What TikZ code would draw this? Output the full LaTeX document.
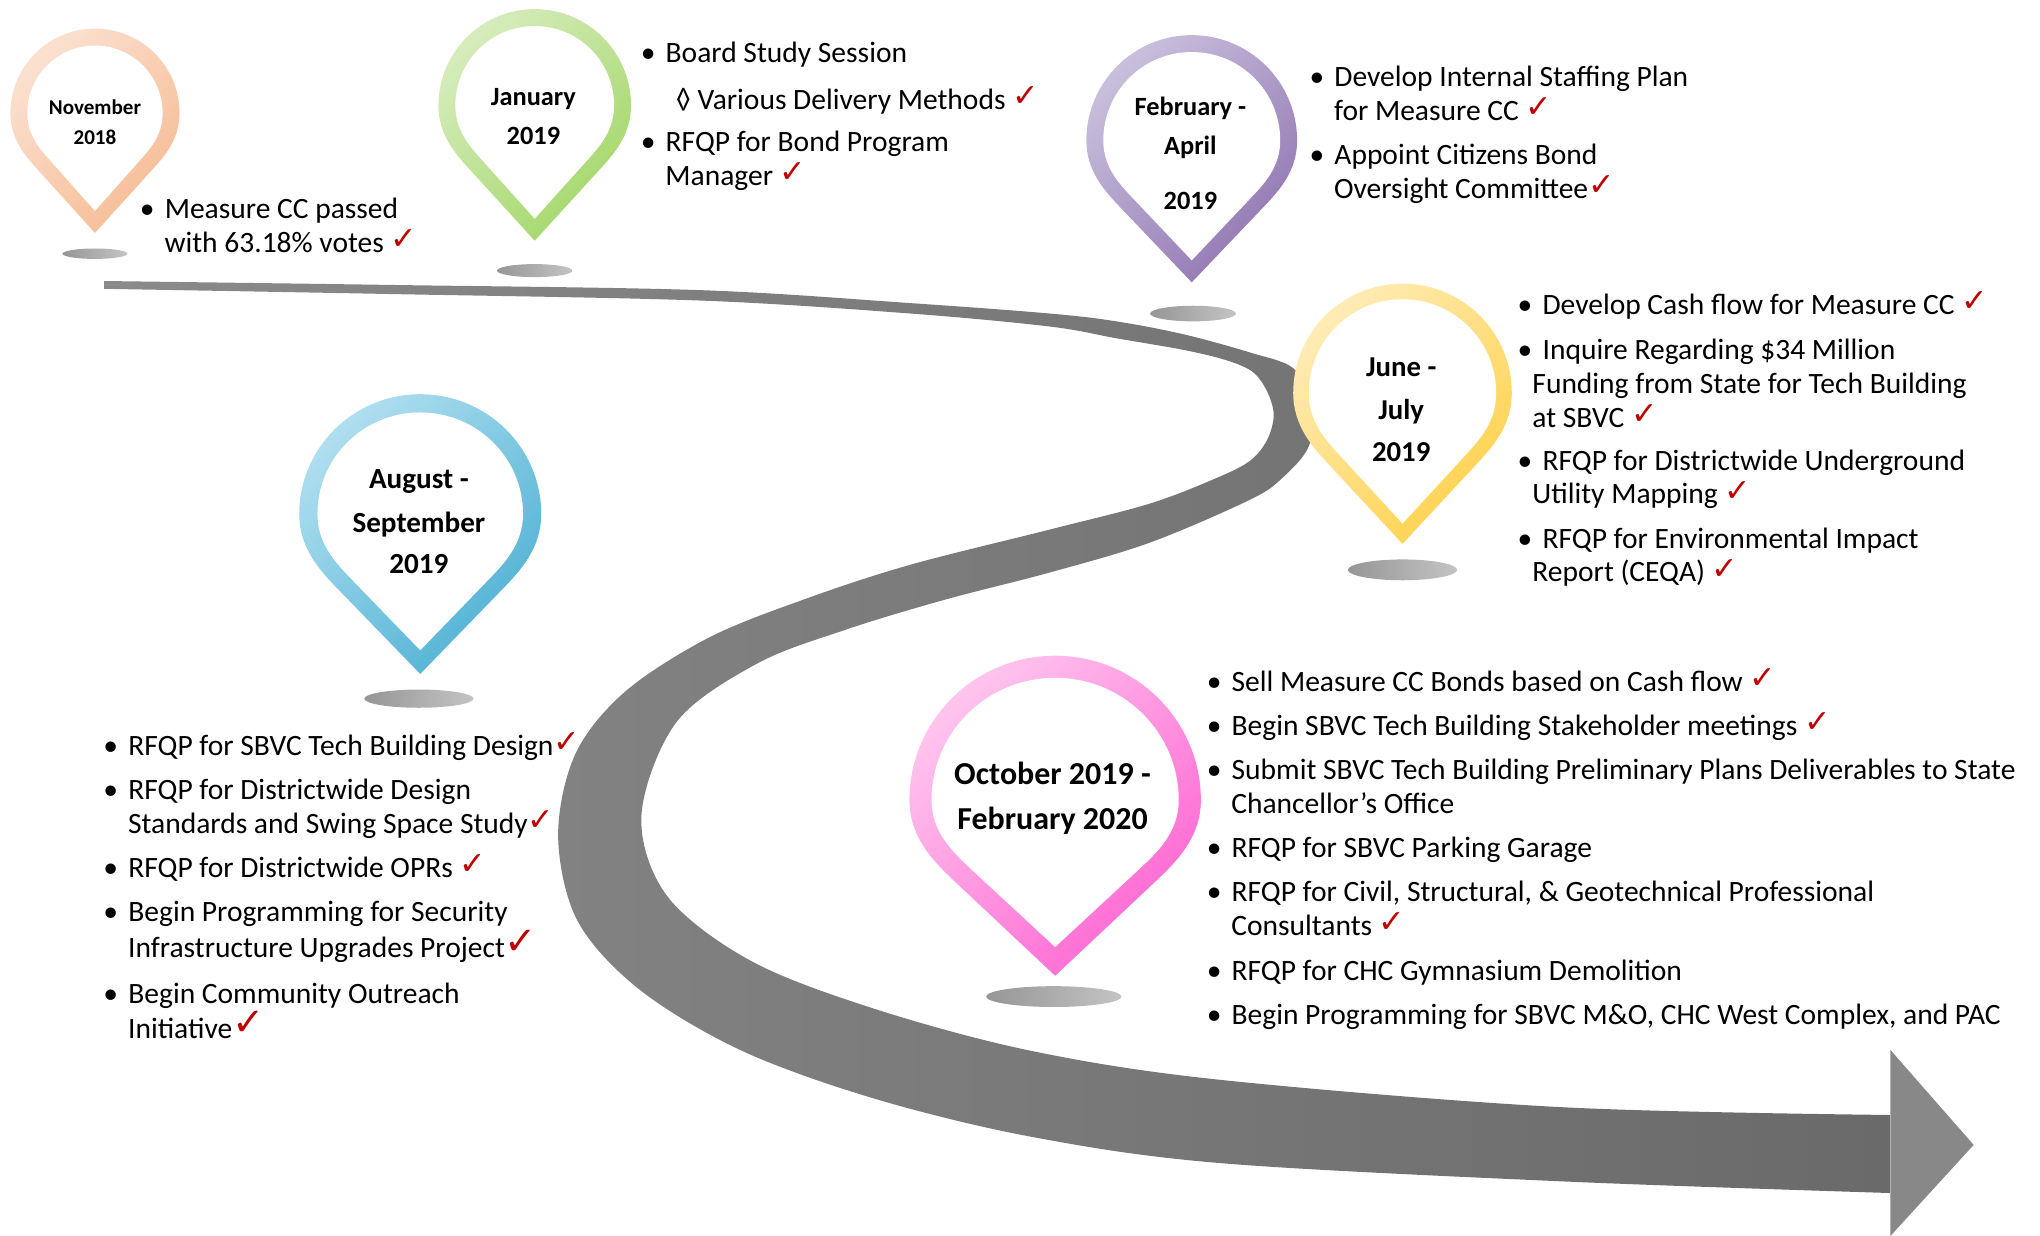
\documentclass[tikz,border=0pt]{standalone}
\usepackage{fontspec}
\setmainfont{Carlito}
\newfontfamily\tickfont{DejaVu Sans}
\definecolor{tickred}{HTML}{C00000}
\definecolor{shadowdark}{HTML}{969696}
\definecolor{shadowlight}{HTML}{C4C4C4}
\definecolor{roadleft}{HTML}{8A8A8A}
\definecolor{roadmid}{HTML}{858585}
\definecolor{roadright}{HTML}{6A6A6A}
\definecolor{headgray}{HTML}{888888}
\definecolor{novlight}{HTML}{FBE0D0}
\definecolor{novdark}{HTML}{F6BC94}
\definecolor{janlight}{HTML}{D6ECBC}
\definecolor{jandark}{HTML}{A3D769}
\definecolor{feblight}{HTML}{C9BEDC}
\definecolor{febdark}{HTML}{9177B2}
\definecolor{junlight}{HTML}{FFEBB4}
\definecolor{jundark}{HTML}{FFD24C}
\definecolor{auglight}{HTML}{AEDEEF}
\definecolor{augdark}{HTML}{4FB1D4}
\definecolor{octlight}{HTML}{FFC4EE}
\definecolor{octdark}{HTML}{FF66D2}
\newcommand{\ok}{{\tickfont\fontsize{9}{9}\selectfont\color{tickred}\smash{\raisebox{0.8pt}{✓}}}}
\newcommand{\okb}{{\tickfont\fontsize{11}{11}\selectfont\color{tickred}\smash{\raisebox{0.8pt}{✓}}}}
\newcommand{\bul}{•\hspace{2.9pt}}
\newcommand{\inda}{\hspace{7pt}}
\newcommand{\indb}{\hspace{4.2pt}}
% teardrop outline: centre x, centre y, half width, height above centre, tip below centre
\newcommand{\teardrop}[5]{
  ({#1},{#2+(#5)}) -- ({#1+0.68*(#3)},{#2+0.47*(#5)})
  .. controls ({#1+0.82*(#3)},{#2+0.36*(#5)}) and ({#1+(#3)},{#2+0.22*(#5)}) .. ({#1+(#3)},#2)
  .. controls ({#1+(#3)},{#2-0.5523*(#4)}) and ({#1+0.5523*(#3)},{#2-(#4)}) .. (#1,{#2-(#4)})
  .. controls ({#1-0.5523*(#3)},{#2-(#4)}) and ({#1-(#3)},{#2-0.5523*(#4)}) .. ({#1-(#3)},#2)
  .. controls ({#1-(#3)},{#2+0.22*(#5)}) and ({#1-0.82*(#3)},{#2+0.36*(#5)}) .. ({#1-0.68*(#3)},{#2+0.47*(#5)})
  -- cycle}
% pin: x, y, half width, above, below, ring, light colour, dark colour
\newcommand{\pin}[8]{
  \shade[top color=#7,bottom color=#8,shading angle=45] \teardrop{#1}{#2}{#3}{#4}{#5};
  \fill[white] \teardrop{#1}{#2}{#3-#6}{#4-#6}{#5-1.3*#6};
}
\tikzset{
  datelbl/.style={align=center,inner sep=0pt,font=\fontsize{#1}{#1}\bfseries\selectfont},
  itemtxt/.style={anchor=north west,align=left,inner sep=0pt,
    font=\fontsize{8.4}{9.62}\selectfont},
  shadow/.style={left color=shadowdark,right color=shadowlight}
}
\begin{document}
\begin{tikzpicture}[x=0.01301cm,y=-0.01301cm]
  \useasboundingbox (0,0) rectangle (1568,950);
  % road
  \shade[left color=roadleft,middle color=roadmid,right color=roadright]
    plot[smooth,tension=0.55] coordinates {(80,216) (300,219) (538,223) (700,233) (807,241)
      (858,247) (910,257) (961,271) (994,283) (1010,310) (1006,343) (986,367) (961,384)
      (884,417) (807,440) (726,461) (650,484) (582,510) (520,555) (493,627) (513,689)
      (578,739) (674,776) (794,808) (938,830) (1200,851) (1453,857)}
    -- plot[smooth,tension=0.55] coordinates {(1453,917) (1200,908) (938,894) (794,874)
      (674,845) (571,808) (492,761) (444,708) (429,643) (442,580) (480,532) (545,490)
      (620,460) (700,434) (807,407) (884,387) (936,367) (961,354) (974,338) (979,319)
      (974,301) (963,286) (943,277) (910,269) (858,260) (807,251) (700,241) (538,231)
      (300,226) (80,222)}
    -- cycle;
  \fill[headgray] (1453,807) -- (1517,880) -- (1453,950) -- cycle;
  % shadows
  \shade[shadow] (73,195) ellipse (25 and 4);
  \shade[shadow] (411,208) ellipse (29 and 5);
  \shade[shadow] (917,241) ellipse (33 and 6);
  \shade[shadow] (1078,438) ellipse (42 and 8);
  \shade[shadow] (322,537) ellipse (42 and 7);
  \shade[shadow] (810,766) ellipse (52 and 8);
  % pins
  \pin{73}{87}{65}{65}{92}{13}{novlight}{novdark}
  \pin{411}{81}{74}{74}{104}{13}{janlight}{jandark}
  \pin{916}{108}{81}{81}{109}{13}{feblight}{febdark}
  \pin{1078}{302}{84}{84}{116}{12}{junlight}{jundark}
  \pin{323}{395}{93}{92}{123}{14}{auglight}{augdark}
  \pin{811}{615}{112}{111}{135}{17}{octlight}{octdark}
  % dates
  \node[datelbl=6] (nov1) at (73,82) {November};
  \node[datelbl=6] (nov2) at (73,105.5) {2018};
  \node[datelbl=7.5] (jan1) at (410,76) {January};
  \node[datelbl=7.5] (jan2) at (410,104.5) {2019};
  \node[datelbl=7.5] (feb1) at (915,83.5) {February -};
  \node[datelbl=7.5] (feb2) at (915,113.5) {April};
  \node[datelbl=7.5] (feb3) at (915,154.5) {2019};
  \node[datelbl=8.2] (jun1) at (1077,282.5) {June -};
  \node[datelbl=8.2] (jun2) at (1077,316.5) {July};
  \node[datelbl=8.2] (jun3) at (1077,347.5) {2019};
  \node[datelbl=8.3] (aug1) at (322,370) {August -};
  \node[datelbl=8.3] (aug2) at (322,403) {September};
  \node[datelbl=8.3] (aug3) at (322,433.5) {2019};
  \node[datelbl=9.1] (oct1) at (809,594.5) {October 2019 -};
  \node[datelbl=9.1] (oct2) at (809,631) {February 2020};
  % items
  \node[itemtxt] (n1) at (107,152) {\bul Measure CC passed\\\inda with 63.18\% votes \ok};
  \node[itemtxt] (j1) at (492,32) {\bul Board Study Session};
  \node[itemtxt] (j2) at (519,67) {◊ Various Delivery Methods \ok};
  \node[itemtxt] (j3) at (492,100) {\bul RFQP for Bond Program\\\inda Manager \ok};
  \node[itemtxt] (f1) at (1006,50) {\bul Develop Internal Staffing Plan\\\inda for Measure CC \ok};
  \node[itemtxt] (f2) at (1006,110) {\bul Appoint Citizens Bond\\\inda Oversight Committee\ok};
  \node[itemtxt] (u1) at (1166,225.5) {\bul Develop Cash flow for Measure CC \ok};
  \node[itemtxt] (u2) at (1166,260) {\bul Inquire Regarding \$34 Million\\\indb Funding from State for Tech Building\\\indb at SBVC \ok};
  \node[itemtxt] (u3) at (1166,345) {\bul RFQP for Districtwide Underground\\\indb Utility Mapping \ok};
  \node[itemtxt] (u4) at (1166,405) {\bul RFQP for Environmental Impact\\\indb Report (CEQA) \ok};
  \node[itemtxt] (a1) at (79,564.5) {\bul RFQP for SBVC Tech Building Design\ok};
  \node[itemtxt] (a2) at (79,598) {\bul RFQP for Districtwide Design\\\inda Standards and Swing Space Study\ok};
  \node[itemtxt] (a3) at (79,658) {\bul RFQP for Districtwide OPRs \ok};
  \node[itemtxt] (a4) at (79,692) {\bul Begin Programming for Security\\[0.7pt]\inda Infrastructure Upgrades Project\okb};
  \node[itemtxt] (a5) at (79,755) {\bul Begin Community Outreach\\[0.4pt]\inda Initiative\okb};
  \node[itemtxt] (o1) at (927,515) {\bul Sell Measure CC Bonds based on Cash flow \ok};
  \node[itemtxt] (o2) at (927,549) {\bul Begin SBVC Tech Building Stakeholder meetings \ok};
  \node[itemtxt] (o3) at (927,583) {\bul Submit SBVC Tech Building Preliminary Plans Deliverables to State\\\inda Chancellor’s Office};
  \node[itemtxt] (o4) at (927,643) {\bul RFQP for SBVC Parking Garage};
  \node[itemtxt] (o5) at (927,677) {\bul RFQP for Civil, Structural, \& Geotechnical Professional\\\inda Consultants \ok};
  \node[itemtxt] (o6) at (927,737) {\bul RFQP for CHC Gymnasium Demolition};
  \node[itemtxt] (o7) at (927,771) {\bul Begin Programming for SBVC M\&O, CHC West Complex, and PAC};
\end{tikzpicture}
\end{document}
